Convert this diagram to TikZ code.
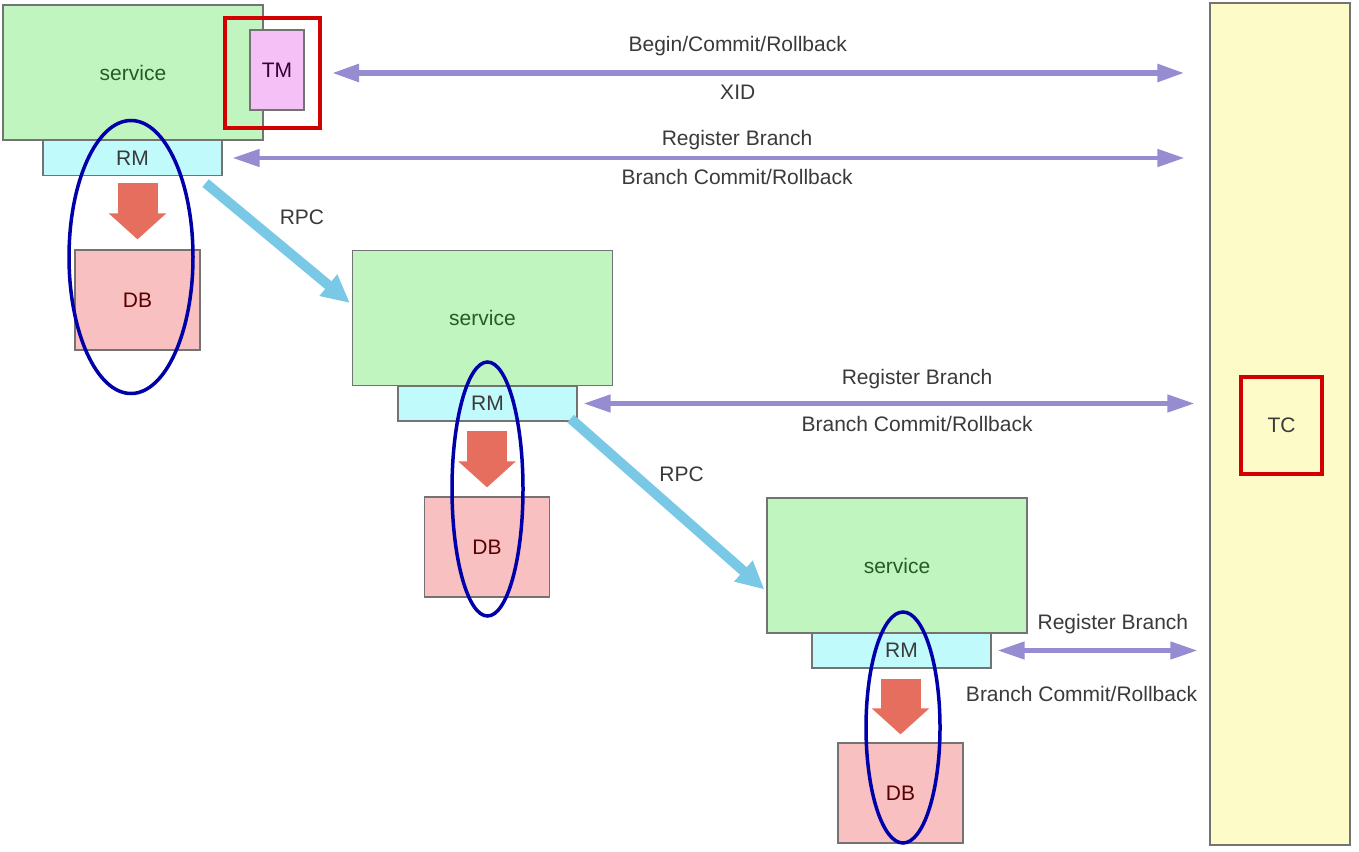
\documentclass[tikz,border=0pt]{standalone}
\usepackage{fontspec}
\setmainfont{Liberation Sans}
\usetikzlibrary{arrows.meta,shapes.geometric,calc}
\definecolor{svcgreen}{RGB}{192,245,192}
\definecolor{svctext}{RGB}{40,90,40}
\definecolor{rmcyan}{RGB}{192,250,250}
\definecolor{tmpink}{RGB}{245,192,245}
\definecolor{dbpink}{RGB}{248,192,192}
\definecolor{tcyellow}{RGB}{253,252,200}
\definecolor{boxred}{RGB}{210,0,0}
\definecolor{ringblue}{RGB}{0,0,170}
\definecolor{syncpurple}{RGB}{150,140,210}
\definecolor{rpcblue}{RGB}{120,200,230}
\definecolor{dbarrow}{RGB}{230,110,95}
\definecolor{lbltext}{RGB}{58,58,58}
\begin{document}
\begin{tikzpicture}
[x=1pt,y=-1pt,font=\fontsize{21}{24}\selectfont,
box/.style={rectangle,draw=gray!90!black,line width=1.2pt,inner sep=0pt},
svc/.style={box,fill=svcgreen,text=svctext,minimum width=260pt,minimum height=135pt},
rm/.style={box,fill=rmcyan,text=lbltext,minimum width=179pt,minimum height=35pt},
db/.style={box,fill=dbpink,text=red!35!black,minimum width=125pt,minimum height=100pt},
redframe/.style={rectangle,draw=boxred,line width=4pt,inner sep=0pt},
ring/.style={ellipse,draw=ringblue,line width=3.5pt,inner sep=0pt},
sync/.style={draw=syncpurple,line width=4.5pt,{Triangle[width=17pt,length=27pt]}-{Triangle[width=17pt,length=27pt]}},
rpc/.style={draw=rpcblue,line width=10pt,-{Triangle[width=26pt,length=28pt]}},
persist/.style={draw=dbarrow,line width=40pt,-{Triangle[width=56pt,length=26pt]}},
lbl/.style={text=lbltext,inner sep=0pt}]
\useasboundingbox (0,0) rectangle (1359,851);
% transaction coordinator
\node[box,fill=tcyellow,minimum width=140pt,minimum height=842pt] (tccol) at (1280,424) {};
\node[redframe,minimum width=81pt,minimum height=97pt,text=lbltext] (tc) at (1281.5,425.5) {TC};
% first service with TM
\node[svc] (svc1) at (133,72.5) {service};
\node[rm] (rm1) at (132.5,158) {RM};
\node[box,fill=tmpink,text=violet!40!black,minimum width=54pt,minimum height=80pt] (tm) at (277,70) {TM};
\node[redframe,minimum width=95pt,minimum height=110pt] (tmbox) at (272.5,73) {};
\node[db] (db1) at (137.5,300) {DB};
% second service
\node[svc] (svc2) at (482.5,318) {service};
\node[rm] (rm2) at (487.5,403.5) {RM};
\node[db] (db2) at (487,547) {DB};
% third service
\node[svc] (svc3) at (897,565.5) {service};
\node[rm] (rm3) at (901.5,650.5) {RM};
\node[db] (db3) at (900.5,793) {DB};
% RM -> DB
\draw[persist,shorten <=7pt,shorten >=10pt] (db1.north |- rm1.south) -- (db1.north);
\draw[persist,shorten <=9pt,shorten >=9pt] (db2.north |- rm2.south) -- (db2.north);
\draw[persist,shorten <=10pt,shorten >=8pt] (db3.north |- rm3.south) -- (db3.north);
% RPC calls
\draw[rpc] ($(rm1.south east)+(-17,7)$) -- node[lbl,pos=.55,xshift=17pt,yshift=32pt]{RPC} ($(svc2.west)+(-2,-15)$);
\draw[rpc] ($(rm2.south east)+(-7,-3)$) -- node[lbl,pos=.5,xshift=14pt,yshift=30pt]{RPC} ($(svc3.west)+(-2,24)$);
% messages with TC
\draw[sync,line width=5.5pt] ([xshift=10pt]tmbox.east) -- node[lbl,pos=.476,yshift=27pt]{Begin/Commit/Rollback} node[lbl,pos=.476,yshift=-19pt]{XID} ([xshift=-25pt]tmbox.east -| tccol.west);
\draw[sync] ([xshift=10pt]rm1.east) -- node[lbl,pos=.53,yshift=18pt]{Register Branch} node[lbl,pos=.53,yshift=-19pt]{Branch Commit/Rollback} ([xshift=-25pt]rm1.east -| tccol.west);
\draw[sync] ([xshift=6pt]rm2.east) -- node[lbl,pos=.546,yshift=24pt]{Register Branch} node[lbl,pos=.546,yshift=-20pt]{Branch Commit/Rollback} ([xshift=-15pt]rm2.east -| tccol.west);
\draw[sync] ([xshift=6pt]rm3.east) -- node[lbl,pos=.577,yshift=26pt]{Register Branch} node[lbl,pos=.42,yshift=-43pt]{Branch Commit/Rollback} ([xshift=-12pt]rm3.east -| tccol.west);
% RM scopes
\node[ring,minimum width=124pt,minimum height=273pt] (ring1) at (131,257) {};
\node[ring,minimum width=71pt,minimum height=254pt] (ring2) at (487.5,489) {};
\node[ring,minimum width=74pt,minimum height=231pt] (ring3) at (903,727.5) {};
\end{tikzpicture}
\end{document}
